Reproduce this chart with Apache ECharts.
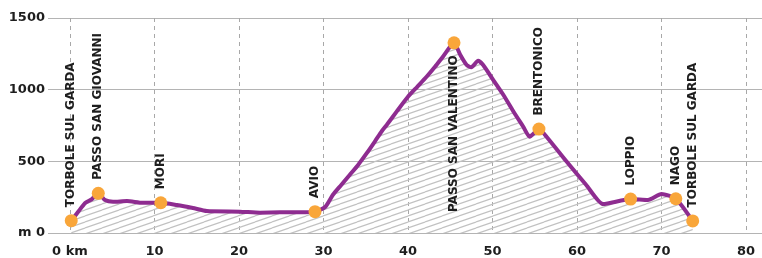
<!DOCTYPE html>
<html>
<head>
<meta charset="utf-8">
<script src="https://cdn.jsdelivr.net/npm/echarts@6/dist/echarts.min.js"></script>
<style>
  html, body { margin: 0; padding: 0; background: #fff; }
  #main { width: 762px; height: 258px; }
</style>
</head>
<body>
<div id="main"></div>
<script>
// elevation profile (km, m)
const distKm = [0.15, 0.95, 1.8, 2.6, 3.35, 4.15, 5.1, 6.75, 8.6, 10.75, 12.65, 14.55, 16.2, 20.1, 22.5, 24.85, 27.2, 29.0,
  30.2, 31.1, 32.1, 33.1, 34.1, 35.1, 36.1, 36.9, 37.5, 38.7, 40.0, 41.1, 42.2, 43.2, 44.2, 45.45,
  46.2, 46.95, 47.5, 48.3, 48.9, 50.1, 51.3, 52.5, 53.65,
  54.4, 55.5, 56.4, 58.8, 61.1, 63.1, 66.35, 68.4, 70.0, 71.7, 73.7];
const elevM = [86, 146, 209, 237, 277, 230, 218, 223, 211, 211, 195, 174, 153, 149, 142, 144, 144, 149,
  181, 265, 335, 405, 475, 555, 640, 710, 755, 850, 950, 1020, 1090, 1160, 1235, 1327,
  1242, 1172, 1156, 1202, 1172, 1067, 963, 846, 741,
  672, 725, 672, 497, 335, 202, 237, 230, 272, 239, 84];

// stops along the route
const stopNames = ['TORBOLE SUL GARDA', 'PASSO SAN GIOVANNI', 'MORI', 'AVIO', 'PASSO SAN VALENTINO',
  'BRENTONICO', 'LOPPIO', 'NAGO', 'TORBOLE SUL GARDA'];
const stopKm = [0.15, 3.35, 10.75, 29.0, 45.45, 55.5, 66.35, 71.7, 73.7];
const stopElev = [86, 277, 211, 149, 1327, 725, 237, 239, 84];

const xTicks = [0, 10, 20, 30, 40, 50, 60, 70, 80];

// diagonal hatch for the area under the profile
function hatchPattern() {
  const c = document.createElement('canvas');
  c.width = 17; c.height = 6;
  const g = c.getContext('2d');
  g.strokeStyle = '#c2c2c2';
  g.lineWidth = 1.2;
  g.beginPath();
  for (let dy = -6; dy <= 6; dy += 6) {
    g.moveTo(0, 6 + dy);
    g.lineTo(17, dy);
  }
  g.stroke();
  return c;
}

const chart = echarts.init(document.getElementById('main'));
const labelFont = { fontFamily: 'DejaVu Sans', fontWeight: 'bold', color: '#1e1e1e' };

chart.setOption({
  backgroundColor: '#fff',
  animation: false,
  grid: { left: 48, right: 0, top: 18, bottom: 25 },
  xAxis: {
    type: 'value',
    min: -2.6,
    max: 81.9,
    axisLine: { show: false },
    axisTick: { show: false, customValues: xTicks },
    axisLabel: {
      customValues: xTicks,
      formatter: v => v === 0 ? '0 km' : String(v),
      fontSize: 13, margin: 12, ...labelFont
    },
    splitLine: { show: true, lineStyle: { color: '#a8a8a8', type: [4, 4], width: 1 } }
  },
  yAxis: {
    type: 'value',
    min: 0, max: 1500, interval: 500,
    axisLine: { show: false },
    axisTick: { show: false },
    axisLabel: {
      formatter: v => v === 0 ? 'm 0' : String(v),
      fontSize: 13, margin: 3, ...labelFont
    },
    splitLine: { lineStyle: { color: '#b4b4b4', width: 1 } }
  },
  series: [{
    type: 'line',
    data: distKm.map((d, i) => [d, elevM[i]]),
    smooth: 0.2,
    symbol: 'none',
    lineStyle: { color: '#8e2c90', width: 4 },
    areaStyle: { color: { image: hatchPattern(), repeat: 'repeat' }, opacity: 1 },
    z: 2
  }, {
    type: 'scatter',
    data: stopKm.map((d, i) => {
      const below = stopNames[i] === 'PASSO SAN VALENTINO';
      return {
        value: [d, stopElev[i], stopNames[i]],
        label: below ? { position: 'bottom', align: 'right', distance: 6 } : {}
      };
    }),
    symbolSize: 13,
    itemStyle: { color: '#f9a63a', opacity: 1 },
    label: {
      show: true,
      position: 'top',
      rotate: 90,
      align: 'left',
      verticalAlign: 'middle',
      distance: 7,
      fontSize: 12,
      formatter: p => p.value[2],
      ...labelFont
    },
    z: 3
  }]
});
</script>
</body>
</html>
